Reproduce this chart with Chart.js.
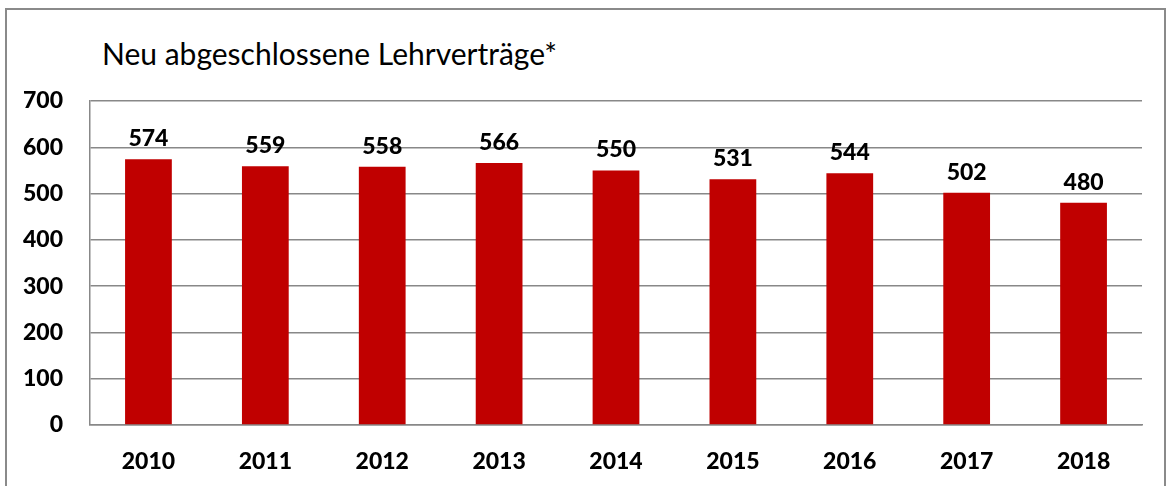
<!DOCTYPE html>
<html>
<head>
<meta charset="utf-8">
<script src="https://cdn.jsdelivr.net/npm/chart.js@4"></script>
<style>
  body { margin: 0; background: #fff; overflow: hidden; }
  #frame { position: absolute; left: 5px; top: 8px; width: 1157px; height: 600px; border: 2px solid #8a8a8a; }
  #title { position: absolute; left: 102px; top: 35px; font: 30px Lato, sans-serif; color: #000; white-space: nowrap; }
  #wrap { position: absolute; left: 0; top: 0; width: 1166px; height: 486px; }
</style>
</head>
<body>
<div id="frame"></div>
<div id="title">Neu abgeschlossene Lehrverträge*</div>
<div id="wrap"><canvas id="chart" width="1166" height="486"></canvas></div>
<script>
const years = ["2010", "2011", "2012", "2013", "2014", "2015", "2016", "2017", "2018"];
const contracts = [574, 559, 558, 566, 550, 531, 544, 502, 480];
const yTicks = [0, 100, 200, 300, 400, 500, 600, 700];

// value labels above the bars
const barLabels = {
  id: "barLabels",
  afterDatasetsDraw(chart) {
    const ctx = chart.ctx;
    const meta = chart.getDatasetMeta(0);
    ctx.save();
    ctx.font = "900 23px Lato, sans-serif";
    ctx.fillStyle = "#000";
    ctx.textAlign = "center";
    ctx.textBaseline = "alphabetic";
    meta.data.forEach((bar, i) => {
      ctx.fillText(contracts[i], bar.x, bar.y - 13);
    });
    ctx.restore();
  },
};

new Chart(document.querySelector("#chart"), {
  type: "bar",
  data: {
    labels: years,
    datasets: [
      {
        label: "Lehrverträge",
        data: contracts,
        backgroundColor: "#c00000",
        borderWidth: 0,
        categoryPercentage: 1,
        barPercentage: 0.4,
      },
    ],
  },
  options: {
    responsive: false,
    animation: false,
    layout: {
      padding: { top: 101, right: 24, left: 0, bottom: 0 },
    },
    scales: {
      x: {
        grid: { display: false, drawTicks: false },
        border: { display: true, color: "#888", width: 1.5 },
        ticks: {
          padding: 23,
          color: "#000",
          font: { family: "Lato", size: 23, weight: "900" },
        },
        afterFit: (s) => { s.height = 61; },
      },
      y: {
        min: 0,
        max: 700,
        afterBuildTicks: (s) => { s.ticks = yTicks.map((v) => ({ value: v })); },
        grid: { color: "#888", lineWidth: 1.5, drawTicks: false },
        border: { display: true, color: "#888", width: 1.5 },
        ticks: {
          padding: 27,
          color: "#000",
          font: { family: "Lato", size: 23, weight: "900" },
        },
        afterFit: (s) => { s.width = 90; },
      },
    },
    plugins: {
      legend: { display: false },
      tooltip: { enabled: false },
    },
  },
  plugins: [barLabels],
});
</script>
</body>
</html>
